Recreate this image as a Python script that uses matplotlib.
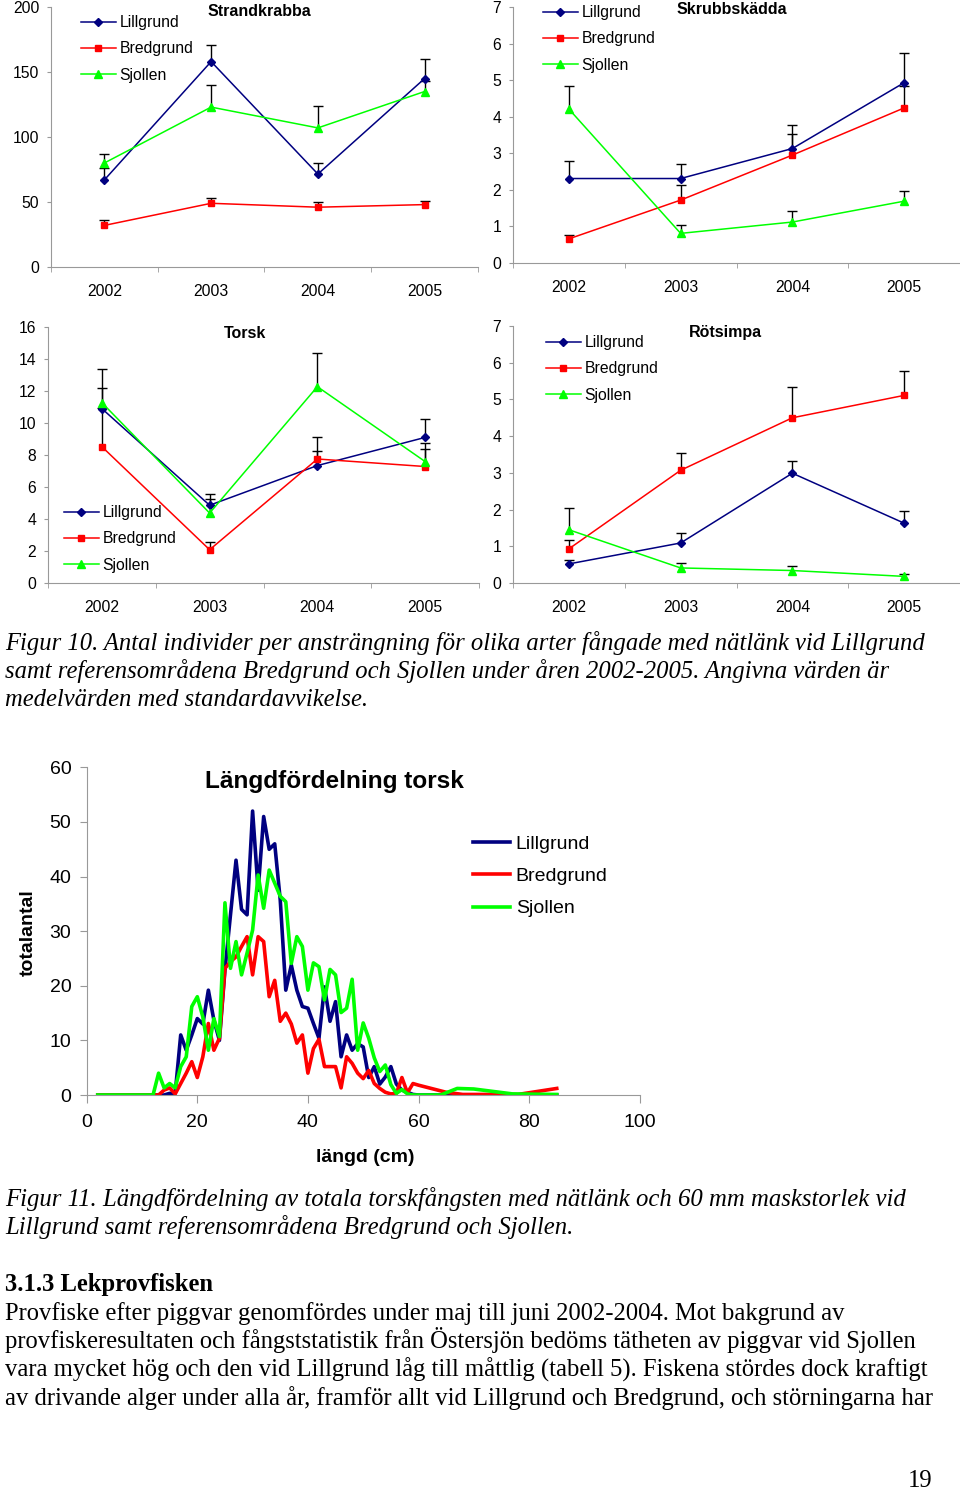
import matplotlib
matplotlib.use('Agg')
from matplotlib import pyplot as plt

W, H = 960, 1491

years = ['2002', '2003', '2004', '2005']
sites = ['Lillgrund', 'Bredgrund', 'Sjollen']

# Strandkrabba, mean and standard deviation per year
krabba_lill = [67, 158, 71.5, 145]
krabba_lill_sd = [9, 13, 8.5, 15]
krabba_bred = [32, 49, 46, 48]
krabba_bred_sd = [4, 4, 4, 3]
krabba_sjo = [80, 123, 107, 135]
krabba_sjo_sd = [7, 17, 17, 8]

# Skrubbskädda
skrubb_lill = [2.31, 2.31, 3.13, 4.93]
skrubb_lill_sd = [0.48, 0.41, 0.64, 0.82]
skrubb_bred = [0.66, 1.72, 2.95, 4.24]
skrubb_bred_sd = [0.10, 0.42, 0.59, 0.6]
skrubb_sjo = [4.21, 0.81, 1.12, 1.69]
skrubb_sjo_sd = [0.62, 0.24, 0.31, 0.27]

# Torsk
torsk_lill = [10.9, 4.86, 7.34, 9.1]
torsk_lill_sd = [1.3, 0.69, 0.89, 1.17]
torsk_bred = [8.52, 2.08, 7.75, 7.28]
torsk_bred_sd = [2.4, 0.48, 1.35, 1.08]
torsk_sjo = [11.27, 4.37, 12.27, 7.59]
torsk_sjo_sd = [2.08, 0.87, 2.13, 1.14]

# Rötsimpa
rot_lill = [0.52, 1.09, 2.99, 1.63]
rot_lill_sd = [0.10, 0.27, 0.34, 0.34]
rot_bred = [0.93, 3.07, 4.5, 5.11]
rot_bred_sd = [0.23, 0.46, 0.83, 0.67]
rot_sjo = [1.45, 0.41, 0.34, 0.18]
rot_sjo_sd = [0.59, 0.13, 0.13, 0.06]

# Längdfördelning torsk (antal per cm-klass)
len_lill_x = list(range(2, 61)) + [85]
len_lill = [0, 0, 0, 0, 0, 0, 0, 0, 0, 0, 0, 0, 0,
            0.3, 0.3, 11, 8.2, 11, 14, 13, 19.2, 13.7, 10,
            22.9, 33, 43, 34, 33, 52, 37.5, 51, 45, 46,
            35.7, 19.2, 23.8, 19.2, 16.2, 15.9, 13.1, 10.4, 19.8, 13.5,
            17.1, 7, 11, 8.2, 9.4, 8.8, 3.2, 5.2, 2, 3.3,
            5.2, 2, 0.9, 0.5, 0.1, 0,
            0]
len_bred_x = list(range(2, 61)) + [65, 68, 78, 85]
len_bred = [0, 0, 0, 0, 0, 0, 0, 0, 0, 0, 0, 0,
            0.9, 1.3, 0.2, 2.1, 4, 6.1, 3.2, 7, 13.1, 8.2,
            10.4, 23.2, 24.4, 25.3, 27.2, 29, 22, 29, 28.1, 18,
            21, 13.5, 15, 13, 9.5, 11, 4, 8.5, 10.2, 5.2,
            5.2, 5.2, 1.3, 7, 5.8, 4, 3, 4.5, 2.1, 1.2,
            0.5, 0.2, 0.3, 3.2, 0.4, 2.1, 1.8,
            0.5, 0.1, 0.1, 1.2]
len_sjo_x = list(range(2, 61)) + [64, 67, 70, 77, 85]
len_sjo = [0, 0, 0, 0, 0, 0, 0, 0, 0, 0, 0,
           4, 1.3, 2.1, 1.3, 5.2, 7, 16.2, 18, 14.3, 8.2,
           14, 10.7, 35.2, 23.2, 28.1, 22, 26, 30.2, 40.3, 34.2,
           41.2, 38.8, 36.4, 35.4, 24.1, 29, 27.2, 19.2, 24.2, 23.5,
           17.4, 23, 22, 15.1, 15.9, 21.2, 8.2, 13.2, 10.4, 6.8,
           4.3, 5.5, 1.9, 0.3, 1.0, 0.2, 0, 0,
           0, 1.2, 1.1, 0.2, 0.1]

caption10 = ['Figur 10. Antal individer per ansträngning för olika arter fångade med nätlänk vid Lillgrund',
             'samt referensområdena Bredgrund och Sjollen under åren 2002-2005. Angivna värden är',
             'medelvärden med standardavvikelse.']
caption11 = ['Figur 11. Längdfördelning av totala torskfångsten med nätlänk och 60 mm maskstorlek vid',
             'Lillgrund samt referensområdena Bredgrund och Sjollen.']
heading = '3.1.3 Lekprovfisken'
body = ['Provfiske efter piggvar genomfördes under maj till juni 2002-2004. Mot bakgrund av',
        'provfiskeresultaten och fångststatistik från Östersjön bedöms tätheten av piggvar vid Sjollen',
        'vara mycket hög och den vid Lillgrund låg till måttlig (tabell 5). Fiskena stördes dock kraftigt',
        'av drivande alger under alla år, framför allt vid Lillgrund och Bredgrund, och störningarna har']

colors = ['#000080', '#ff0000', '#00ff00']
markers = ['D', 's', '^']
msizes = [4.5, 5, 6]
AXC = '#999999'


def fx(x):
    return x / W


def fy(y):
    return 1 - y / H


def add_axes_px(fig, left, top, right, bottom):
    return fig.add_axes([left / W, 1 - bottom / H, (right - left) / W, (bottom - top) / H])


def small_chart(fig, box, series, ymax, ystep, title, title_xy, leg_xy):
    ax = add_axes_px(fig, *box)
    x = [1, 2, 3, 4]
    for i, (mean, sd) in enumerate(series):
        top = [m + s for m, s in zip(mean, sd)]
        ax.vlines(x, mean, top, colors='k', lw=1, zorder=2)
        ax.plot(x, top, ls='none', marker='_', ms=7, mew=1, color='k', zorder=2)
        ax.plot(x, mean, color=colors[i], marker=markers[i], ms=msizes[i], lw=1.1,
                label=sites[i], zorder=3, clip_on=False)
    ax.set_xlim(0.5, 4.5)
    ax.set_ylim(0, ymax)
    ax.set_yticks(range(0, ymax + 1, ystep))
    ax.set_xticks(x, years)
    ax.set_xticks([0.5, 1.5, 2.5, 3.5, 4.5], minor=True)
    ax.tick_params(axis='x', which='major', length=0, pad=12, labelsize=11.3)
    ax.tick_params(axis='x', which='minor', length=3.5, color=AXC, direction='out')
    ax.tick_params(axis='y', length=3, color=AXC, pad=5.5, labelsize=11.3)
    for s in ['top', 'right']:
        ax.spines[s].set_visible(False)
    for s in ['left', 'bottom']:
        ax.spines[s].set_color(AXC)
    ax.legend(loc='upper left', bbox_to_anchor=(fx(leg_xy[0]), fy(leg_xy[1])),
              bbox_transform=fig.transFigure, frameon=False, fontsize=11.3,
              handlelength=2.2, handletextpad=0.25, labelspacing=0.72,
              borderpad=0, borderaxespad=0)
    fig.text(fx(title_xy[0]), fy(title_xy[1]), title, ha='center', va='center',
             fontweight='bold', fontsize=11.5)
    return ax


def length_chart(fig):
    ax = add_axes_px(fig, 86.7, 767.4, 639.7, 1095)
    ax.plot(len_lill_x, len_lill, color=colors[0], lw=2.6, label=sites[0])
    ax.plot(len_bred_x, len_bred, color=colors[1], lw=2.6, label=sites[1])
    ax.plot(len_sjo_x, len_sjo, color=colors[2], lw=2.6, label=sites[2])
    ax.set_xlim(0, 100)
    ax.set_ylim(0, 60)
    ax.set_xticks(range(0, 101, 20))
    ax.set_yticks(range(0, 61, 10))
    ax.tick_params(axis='x', length=5.5, color=AXC, pad=8, labelsize=14)
    ax.tick_params(axis='y', length=5, color=AXC, pad=6, labelsize=14)
    for s in ['top', 'right']:
        ax.spines[s].set_visible(False)
    for s in ['left', 'bottom']:
        ax.spines[s].set_color(AXC)
    ax.legend(loc='upper left', bbox_to_anchor=(fx(473), fy(835)),
              bbox_transform=fig.transFigure, frameon=False, fontsize=14,
              handlelength=1.9, handletextpad=0.3, labelspacing=0.76,
              borderpad=0, borderaxespad=0)
    fig.text(fx(334), fy(782), 'Längdfördelning torsk', ha='center', va='center',
             fontweight='bold', fontsize=17.6)
    fig.text(fx(365), fy(1158), 'längd (cm)', ha='center', va='center',
             fontweight='bold', fontsize=14)
    fig.text(fx(28), fy(933), 'totalantal', ha='center', va='center', rotation=90,
             fontweight='bold', fontsize=14)


def page_text(fig):
    serif = 'Liberation Serif'
    for i, line in enumerate(caption10):
        fig.text(fx(5), fy(650 + i * 28), line, family=serif, style='italic',
                 fontsize=17.75, va='baseline')
    for i, line in enumerate(caption11):
        fig.text(fx(5), fy(1206 + i * 28), line, family=serif, style='italic',
                 fontsize=17.8, va='baseline')
    fig.text(fx(5), fy(1291), heading, family=serif, fontweight='bold',
             fontsize=17.7, va='baseline')
    for i, line in enumerate(body):
        fig.text(fx(5), fy(1320 + i * 28.4), line, family=serif,
                 fontsize=17.7, va='baseline')
    fig.text(fx(932), fy(1481), '19', family=serif, fontsize=17.7,
             ha='right', va='center')


def main():
    plt.rcParams['font.family'] = ['Liberation Sans', 'DejaVu Sans']
    fig = plt.figure(figsize=(W / 100, H / 100), dpi=100)

    small_chart(fig, (51, 7, 478, 267),
                [(krabba_lill, krabba_lill_sd), (krabba_bred, krabba_bred_sd), (krabba_sjo, krabba_sjo_sd)],
                200, 50, 'Strandkrabba', (259, 12), (81, 15))
    small_chart(fig, (513, 7, 960, 263),
                [(skrubb_lill, skrubb_lill_sd), (skrubb_bred, skrubb_bred_sd), (skrubb_sjo, skrubb_sjo_sd)],
                7, 1, 'Skrubbskädda', (732, 10), (543, 5))
    small_chart(fig, (48, 327, 479, 583),
                [(torsk_lill, torsk_lill_sd), (torsk_bred, torsk_bred_sd), (torsk_sjo, torsk_sjo_sd)],
                16, 2, 'Torsk', (245, 333), (64, 505))
    small_chart(fig, (513, 326, 960, 583),
                [(rot_lill, rot_lill_sd), (rot_bred, rot_bred_sd), (rot_sjo, rot_sjo_sd)],
                7, 1, 'Rötsimpa', (725, 333), (546, 335))

    length_chart(fig)
    page_text(fig)

    fig.savefig('out.png', dpi=100)


if __name__ == '__main__':
    main()
